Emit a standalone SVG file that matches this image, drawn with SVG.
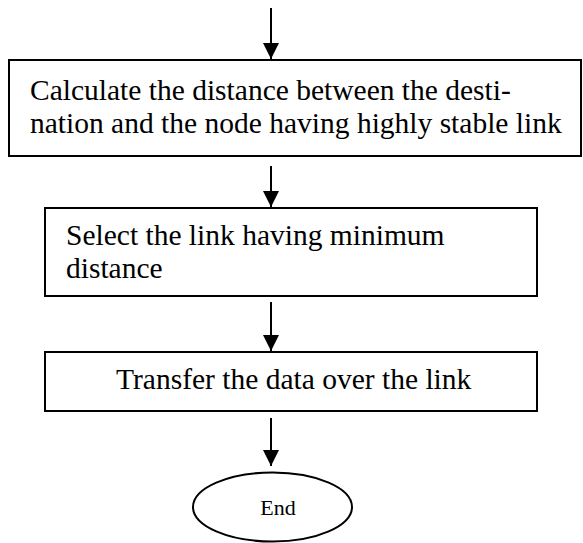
<svg xmlns="http://www.w3.org/2000/svg" width="583" height="543" viewBox="0 0 583 543">
<style>
.box{fill:#fff;stroke:#000;stroke-width:2}
.t{font-family:'Liberation Serif', 'Times New Roman', serif;font-size:29.5px;fill:#000}
.c{stroke:#000;stroke-width:2;fill:none;marker-end:url(#ah)}
</style>
<defs>
<marker id="ah" viewBox="0 0 16 16" refX="16" refY="8" markerWidth="16" markerHeight="16" markerUnits="userSpaceOnUse" orient="auto">
<path d="M0,0 L16,8 L0,16 Z" fill="#000"/>
</marker>
</defs>
<rect width="583" height="543" fill="#fff"/>
<g id="connectors">
<line class="c" x1="271" y1="8" x2="271" y2="59"/>
<line class="c" x1="271" y1="166" x2="271" y2="207"/>
<line class="c" x1="271" y1="302" x2="271" y2="351"/>
<line class="c" x1="271" y1="418" x2="271" y2="466"/>
</g>
<g id="node-calculate">
<rect class="box" x="9" y="60" width="572" height="96"/>
<text class="t" x="30" y="100">Calculate the distance between the desti-</text>
<text class="t" x="30" y="133">nation and the node having highly stable link</text>
</g>
<g id="node-select">
<rect class="box" x="45" y="208" width="492" height="88"/>
<text class="t" x="66" y="245">Select the link having minimum</text>
<text class="t" x="66" y="278">distance</text>
</g>
<g id="node-transfer">
<rect class="box" x="45" y="352" width="492" height="59"/>
<text class="t" x="116" y="389">Transfer the data over the link</text>
</g>
<g id="node-end">
<ellipse class="box" cx="272.5" cy="507" rx="79.5" ry="34.5"/>
<text class="t" x="278" y="515" text-anchor="middle" style="font-size:22px">End</text>
</g>
</svg>
